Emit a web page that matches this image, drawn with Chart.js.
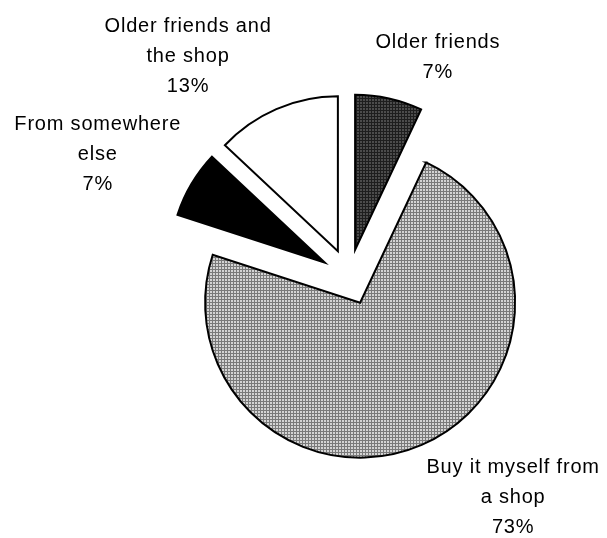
<!DOCTYPE html>
<html>
<head>
<meta charset="utf-8">
<script src="https://cdn.jsdelivr.net/npm/chart.js"></script>
<style>
  html, body { margin: 0; padding: 0; background: #fff; }
  #wrap { width: 607px; height: 538px; position: relative; }
</style>
</head>
<body>
<div id="wrap"><canvas id="whereFrom"></canvas></div>
<script>
// Where the respondents get it from (share of answers, %)
const CATEGORIES = [
  ['Older friends'],
  ['Buy it myself from', 'a shop'],
  ['From somewhere', 'else'],
  ['Older friends and', 'the shop']
];
const SHARES = [7, 73, 7, 13];

const EXPLODE = 28;     // px every slice is pulled out from the centre
const LABEL_GAP = 12;
const LINE_H = 30;
const LABEL_FONT = '20px "Liberation Sans", Arial, sans-serif';

// small dotted fills like the old office patterns
function dotPattern(light, dark) {
  const c = document.createElement('canvas');
  c.width = 3;
  c.height = 3;
  const g = c.getContext('2d');
  g.fillStyle = dark;
  g.fillRect(0, 0, 3, 3);
  g.fillStyle = light;
  g.fillRect(0, 0, 2, 2);
  return g.createPattern(c, 'repeat');
}

// push each arc out along its middle angle
const explode = {
  id: 'explode',
  afterDatasetUpdate(chart, args) {
    args.meta.data.forEach(arc => {
      const mid = (arc.startAngle + arc.endAngle) / 2;
      arc.x += EXPLODE * Math.cos(mid);
      arc.y += EXPLODE * Math.sin(mid);
    });
  }
};

// category + percentage outside each slice
const sliceLabels = {
  id: 'sliceLabels',
  afterDatasetsDraw(chart) {
    const ctx = chart.ctx;
    const meta = chart.getDatasetMeta(0);
    const values = chart.data.datasets[0].data;
    const total = values.reduce((a, b) => a + b, 0);
    ctx.save();
    ctx.font = LABEL_FONT;
    ctx.letterSpacing = '0.8px';
    ctx.fillStyle = '#000';
    ctx.textAlign = 'center';
    ctx.textBaseline = 'middle';
    meta.data.forEach((arc, i) => {
      const lines = [...chart.data.labels[i], Math.round(values[i] / total * 100) + '%'];
      const w = Math.max(...lines.map(l => ctx.measureText(l).width));
      const h = lines.length * LINE_H;
      const mid = (arc.startAngle + arc.endAngle) / 2;
      const cos = Math.cos(mid), sin = Math.sin(mid);
      const r = arc.outerRadius + LABEL_GAP;
      const k = Math.max(-1, Math.min(1, cos * 3.4));
      const cx = arc.x + r * cos + k * w / 2;
      const cy = arc.y + r * sin + sin * h / 2;
      lines.forEach((l, j) => ctx.fillText(l, cx, cy - h / 2 + LINE_H * (j + 0.5)));
    });
    ctx.restore();
  }
};

document.addEventListener('DOMContentLoaded', () => {
  const ctx = document.getElementById('whereFrom').getContext('2d');

  new Chart(ctx, {
    type: 'pie',
    data: {
      labels: CATEGORIES,
      datasets: [{
        data: SHARES,
        backgroundColor: [
          dotPattern('#4c4c4c', '#1e1e1e'),
          dotPattern('#d4d4d4', '#7a7a7a'),
          '#000000',
          '#ffffff'
        ],
        borderColor: '#000',
        borderWidth: 2,
        borderJoinStyle: 'miter',
        radius: 155
      }]
    },
    options: {
      responsive: true,
      maintainAspectRatio: false,
      animation: false,
      events: [],
      layout: { padding: { left: 120, right: 29, top: 16, bottom: 0 } },
      plugins: {
        legend: { display: false },
        tooltip: { enabled: false }
      }
    },
    plugins: [explode, sliceLabels]
  });
});
</script>
</body>
</html>
